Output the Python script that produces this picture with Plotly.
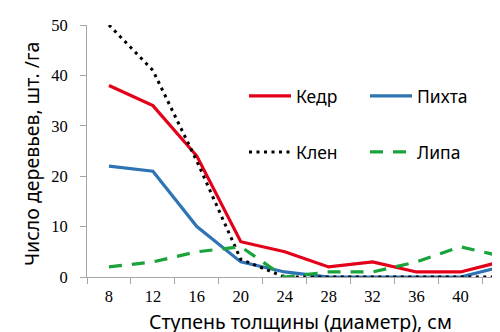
import plotly.graph_objects as go

categories = ["8", "12", "16", "20", "24", "28", "32", "36", "40", "44"]
kedr = [38, 34, 24, 7, 5, 2, 3, 1, 1, 3.2]
pikhta = [22, 21, 10, 3, 1, 0, 0, 0, 0, 2.2]
klen = [50, 41, 23, 3.5, 0, 0, 0, 0, 0, 0]
lipa = [2, 3, 5, 6, 0, 1, 1, 3, 6, 4]
y_ticks = [0, 10, 20, 30, 40, 50]

# page has an 8px body margin, so the figure is 8px smaller than the window
OFF = 8
W, H = 500 - OFF, 332 - OFF
L, R, T, B = 87 - OFF, 0, 25 - OFF, 55
pw = W - L - R
ph = H - T - B


def px_x(page_x):
    return (page_x - OFF - L) / pw


def px_y(page_y):
    return (H - B - (page_y - OFF)) / ph


fig = go.Figure()
fig.add_trace(go.Scatter(x=categories, y=kedr, name="Кедр", mode="lines",
                         line=dict(color="#E2001A", width=3.2), legend="legend"))
fig.add_trace(go.Scatter(x=categories, y=pikhta, name="Пихта", mode="lines",
                         line=dict(color="#2E74B5", width=3.2), legend="legend"))
fig.add_trace(go.Scatter(x=categories, y=klen, name="Клен", mode="lines",
                         line=dict(color="#000000", width=3, dash="3px,4.5px"), legend="legend2"))
fig.add_trace(go.Scatter(x=categories, y=lipa, name="Липа", mode="lines",
                         line=dict(color="#1AA33A", width=3.2, dash="13px,10px"), legend="legend2"))

tickfont = dict(family="Liberation Serif", size=16.5, color="#000000")
fig.update_xaxes(type="category", categoryorder="array", categoryarray=categories,
                 range=[-0.5, 8.9], tickson="boundaries", ticks="outside", ticklen=6,
                 tickcolor="#a6a6a6", showline=True, linecolor="#a6a6a6", linewidth=1,
                 showgrid=False, zeroline=False, tickfont=tickfont, ticklabelstandoff=4)
fig.update_yaxes(range=[0, 50], tickvals=y_ticks, ticks="outside", ticklen=6,
                 tickcolor="#a6a6a6", showline=True, linecolor="#a6a6a6", linewidth=1,
                 showgrid=False, zeroline=False, tickfont=tickfont, ticklabelstandoff=9)

legfont = dict(family="Noto Sans", size=17.5, color="#000000")
leg_common = dict(orientation="h", xanchor="left", yanchor="middle", font=legfont,
                  entrywidth=64, itemwidth=42, bgcolor="rgba(0,0,0,0)", borderwidth=0)
titlefont = dict(family="Noto Sans", size=19.5, color="#000000")
fig.update_layout(
    width=W, height=H, margin=dict(l=L, r=R, t=T, b=B),
    paper_bgcolor="white", plot_bgcolor="white",
    showlegend=True,
    legend=dict(x=px_x(244), y=px_y(96), **leg_common),
    legend2=dict(x=px_x(244), y=px_y(152), **leg_common),
    annotations=[
        dict(text="Число деревьев, шт. /га", textangle=-90, xref="paper", yref="paper",
             x=px_x(31), y=px_y(154), xanchor="center", yanchor="middle", showarrow=False,
             font=titlefont),
        dict(text="Ступень толщины (диаметр), см", xref="paper", yref="paper",
             x=px_x(300), y=px_y(321), xanchor="center", yanchor="middle", showarrow=False,
             font=titlefont),
        dict(text="44", xref="paper", yref="paper", x=px_x(503.5), y=px_y(298),
             xanchor="center", yanchor="middle", showarrow=False, font=tickfont),
    ],
)

fig.write_html("out.html")
